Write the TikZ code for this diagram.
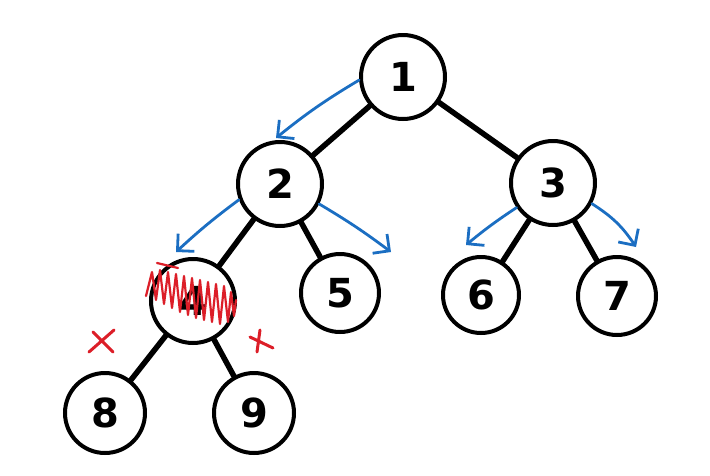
\documentclass[tikz,border=0pt]{standalone}
\usepackage{fontspec}
\setmainfont{DejaVu Sans}
\usetikzlibrary{arrows.meta}
\begin{document}
\begin{tikzpicture}[x=1pt,y=-1pt,
  tnode/.style={circle,draw=black,line width=4pt,inner sep=0pt,font=\fontsize{40}{40}\selectfont\bfseries},
  edge/.style={line width=5.5pt,line cap=round},
  blue arrow/.style={draw={rgb,255:red,27;green,110;blue,194},line width=2.8pt,line cap=round,
    -{Straight Barb[length=12pt,width=24pt,line width=2.8pt]}},
  redmark/.style={draw={rgb,255:red,220;green,30;blue,40},line width=3pt,line cap=round,line join=round}]
\useasboundingbox (0,0) rectangle (710,475);
\node[tnode,minimum size=84pt] (n1) at (403,77) {1};
\node[tnode,minimum size=84pt] (n2) at (280,184) {2};
\node[tnode,minimum size=84pt] (n3) at (553,183) {3};
\node[tnode,minimum size=84pt] (n4) at (193,301) {4};
\node[tnode,minimum size=78pt] (n5) at (340,293) {5};
\node[tnode,minimum size=76pt] (n6) at (481,295) {6};
\node[tnode,minimum size=78pt] (n7) at (617,296) {7};
\node[tnode,minimum size=80pt] (n8) at (105,413) {8};
\node[tnode,minimum size=80pt] (n9) at (254,413) {9};
\draw[edge] (n1) -- (n2);
\draw[edge] (n1) -- (n3);
\draw[edge] (n2) -- (n4);
\draw[edge] (n2) -- (n5);
\draw[edge] (n3) -- (n6);
\draw[edge] (n3) -- (n7);
\draw[edge] (n4) -- (n8);
\draw[edge] (n4) -- (n9);
% blue arrows
\coordinate (a1) at (276,138);
\coordinate (a2) at (176,252);
\coordinate (a3) at (391,252);
\coordinate (a4) at (466,245);
\coordinate (a5) at (636,247);
\draw[blue arrow] (n1.184) to[bend right=4] (a1);
\draw[blue arrow] (n2.201) to[bend right=3] (a2);
\draw[blue arrow] (n2.-27) to[bend left=3] (a3);
\draw[blue arrow] (n3.214) to[bend right=3] (a4);
\draw[blue arrow] (n3.-28) to[bend left=12] (a5);
% red scribble
\coordinate (s0) at (157,263);
\draw[redmark,line width=2.2pt] (s0) -- (178,268)
  (146,296) -- (152,272) -- (156,300) -- (160,270) -- (164,304) -- (168,272)
  -- (172,308) -- (176,274) -- (180,312) -- (184,276) -- (188,315) -- (192,278)
  -- (196,318) -- (200,280) -- (204,320) -- (208,282) -- (212,322) -- (216,284)
  -- (220,324) -- (224,286) -- (228,322) -- (231,292) -- (234,316) -- (236,300);
% red crosses
\coordinate (x1) at (102,342);
\coordinate (x2) at (261,342);
\draw[redmark] ([shift={(-9,-10)}]x1) -- ([shift={(11,10)}]x1) ([shift={(-13,10)}]x1) -- ([shift={(12,-12)}]x1);
\draw[redmark] ([shift={(-1,-12)}]x2) -- ([shift={(-4,10)}]x2) ([shift={(-11,-5)}]x2) -- ([shift={(12,6)}]x2);
\end{tikzpicture}
\end{document}
